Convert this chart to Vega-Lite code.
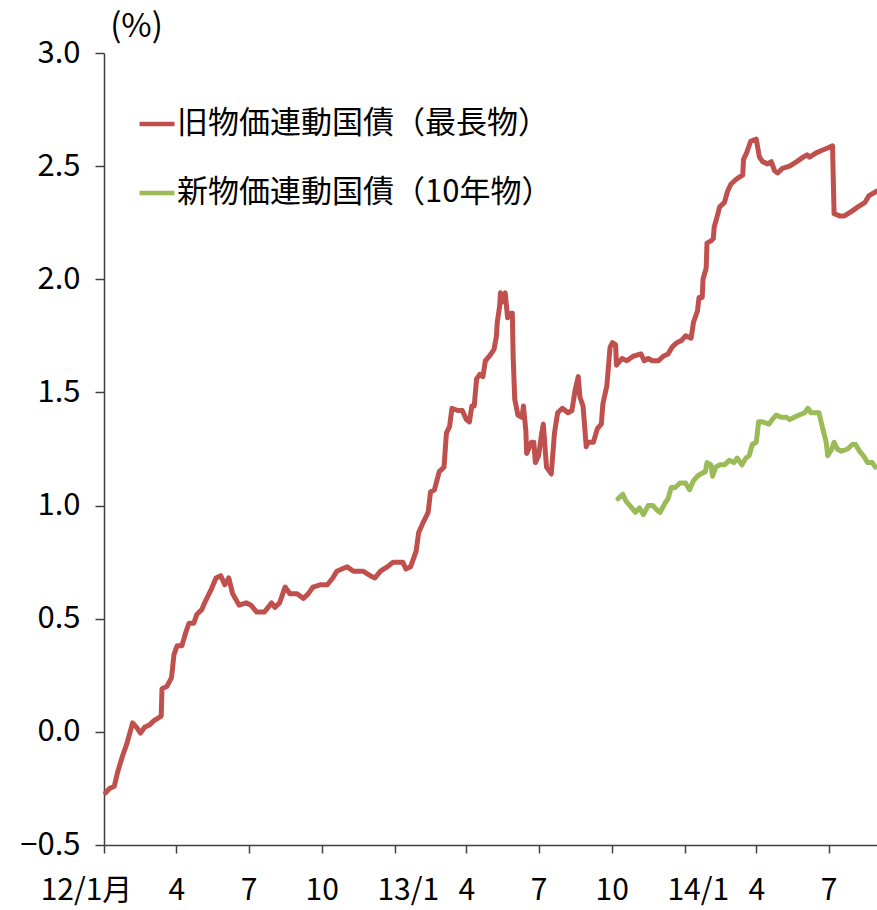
{
  "$schema": "https://vega.github.io/schema/vega-lite/v6.json",
  "width": 773,
  "height": 792,
  "autosize": {"type": "none"},
  "padding": {"left": 104, "top": 53, "right": 0, "bottom": 65},
  "background": "white",
  "config": {
    "view": {"stroke": null},
    "font": "Noto Sans CJK JP"
  },
  "datasets": {
    "old": [
      {"date": "2012-01-03", "value": -0.27},
      {"date": "2012-01-08", "value": -0.25},
      {"date": "2012-01-14", "value": -0.24},
      {"date": "2012-01-18", "value": -0.18},
      {"date": "2012-01-24", "value": -0.11},
      {"date": "2012-01-30", "value": -0.05},
      {"date": "2012-02-06", "value": 0.04},
      {"date": "2012-02-11", "value": 0.02},
      {"date": "2012-02-16", "value": -0.005},
      {"date": "2012-02-21", "value": 0.02},
      {"date": "2012-02-27", "value": 0.03},
      {"date": "2012-03-04", "value": 0.05},
      {"date": "2012-03-13", "value": 0.07},
      {"date": "2012-03-14", "value": 0.19},
      {"date": "2012-03-20", "value": 0.20},
      {"date": "2012-03-26", "value": 0.24},
      {"date": "2012-03-29", "value": 0.34},
      {"date": "2012-04-02", "value": 0.38},
      {"date": "2012-04-08", "value": 0.38},
      {"date": "2012-04-13", "value": 0.44},
      {"date": "2012-04-17", "value": 0.48},
      {"date": "2012-04-23", "value": 0.48},
      {"date": "2012-04-27", "value": 0.52},
      {"date": "2012-05-03", "value": 0.54},
      {"date": "2012-05-08", "value": 0.58},
      {"date": "2012-05-15", "value": 0.63},
      {"date": "2012-05-21", "value": 0.68},
      {"date": "2012-05-27", "value": 0.69},
      {"date": "2012-06-01", "value": 0.65},
      {"date": "2012-06-06", "value": 0.68},
      {"date": "2012-06-11", "value": 0.61},
      {"date": "2012-06-19", "value": 0.56},
      {"date": "2012-06-28", "value": 0.57},
      {"date": "2012-07-04", "value": 0.56},
      {"date": "2012-07-11", "value": 0.53},
      {"date": "2012-07-21", "value": 0.53},
      {"date": "2012-07-30", "value": 0.57},
      {"date": "2012-08-03", "value": 0.55},
      {"date": "2012-08-09", "value": 0.57},
      {"date": "2012-08-16", "value": 0.64},
      {"date": "2012-08-22", "value": 0.61},
      {"date": "2012-08-31", "value": 0.61},
      {"date": "2012-09-08", "value": 0.59},
      {"date": "2012-09-14", "value": 0.61},
      {"date": "2012-09-20", "value": 0.64},
      {"date": "2012-09-29", "value": 0.65},
      {"date": "2012-10-08", "value": 0.65},
      {"date": "2012-10-15", "value": 0.68},
      {"date": "2012-10-20", "value": 0.71},
      {"date": "2012-11-02", "value": 0.73},
      {"date": "2012-11-10", "value": 0.71},
      {"date": "2012-11-22", "value": 0.71},
      {"date": "2012-12-01", "value": 0.69},
      {"date": "2012-12-07", "value": 0.68},
      {"date": "2012-12-14", "value": 0.71},
      {"date": "2012-12-23", "value": 0.73},
      {"date": "2012-12-30", "value": 0.75},
      {"date": "2013-01-11", "value": 0.75},
      {"date": "2013-01-15", "value": 0.72},
      {"date": "2013-01-21", "value": 0.73},
      {"date": "2013-01-28", "value": 0.80},
      {"date": "2013-01-31", "value": 0.88},
      {"date": "2013-02-05", "value": 0.92},
      {"date": "2013-02-12", "value": 0.97},
      {"date": "2013-02-15", "value": 1.06},
      {"date": "2013-02-20", "value": 1.07},
      {"date": "2013-02-23", "value": 1.11},
      {"date": "2013-02-26", "value": 1.15},
      {"date": "2013-03-04", "value": 1.17},
      {"date": "2013-03-07", "value": 1.32},
      {"date": "2013-03-11", "value": 1.35},
      {"date": "2013-03-14", "value": 1.43},
      {"date": "2013-03-21", "value": 1.42},
      {"date": "2013-03-27", "value": 1.42},
      {"date": "2013-04-01", "value": 1.38},
      {"date": "2013-04-05", "value": 1.37},
      {"date": "2013-04-08", "value": 1.44},
      {"date": "2013-04-11", "value": 1.44},
      {"date": "2013-04-14", "value": 1.56},
      {"date": "2013-04-18", "value": 1.58},
      {"date": "2013-04-22", "value": 1.57},
      {"date": "2013-04-25", "value": 1.64},
      {"date": "2013-04-30", "value": 1.66},
      {"date": "2013-05-06", "value": 1.69},
      {"date": "2013-05-09", "value": 1.75},
      {"date": "2013-05-10", "value": 1.81},
      {"date": "2013-05-13", "value": 1.88},
      {"date": "2013-05-14", "value": 1.94},
      {"date": "2013-05-17", "value": 1.90},
      {"date": "2013-05-20", "value": 1.94},
      {"date": "2013-05-23", "value": 1.83},
      {"date": "2013-05-27", "value": 1.85},
      {"date": "2013-05-29", "value": 1.85},
      {"date": "2013-05-30", "value": 1.66},
      {"date": "2013-06-01", "value": 1.47},
      {"date": "2013-06-05", "value": 1.40},
      {"date": "2013-06-10", "value": 1.39},
      {"date": "2013-06-12", "value": 1.44},
      {"date": "2013-06-15", "value": 1.33},
      {"date": "2013-06-16", "value": 1.23},
      {"date": "2013-06-22", "value": 1.28},
      {"date": "2013-06-25", "value": 1.28},
      {"date": "2013-06-27", "value": 1.19},
      {"date": "2013-07-01", "value": 1.22},
      {"date": "2013-07-05", "value": 1.32},
      {"date": "2013-07-07", "value": 1.36},
      {"date": "2013-07-11", "value": 1.17},
      {"date": "2013-07-13", "value": 1.16},
      {"date": "2013-07-17", "value": 1.14},
      {"date": "2013-07-21", "value": 1.32},
      {"date": "2013-07-25", "value": 1.41},
      {"date": "2013-07-31", "value": 1.43},
      {"date": "2013-08-07", "value": 1.41},
      {"date": "2013-08-12", "value": 1.42},
      {"date": "2013-08-16", "value": 1.51},
      {"date": "2013-08-20", "value": 1.57},
      {"date": "2013-08-22", "value": 1.48},
      {"date": "2013-08-26", "value": 1.44},
      {"date": "2013-08-30", "value": 1.26},
      {"date": "2013-09-01", "value": 1.28},
      {"date": "2013-09-08", "value": 1.28},
      {"date": "2013-09-13", "value": 1.34},
      {"date": "2013-09-18", "value": 1.36},
      {"date": "2013-09-20", "value": 1.45},
      {"date": "2013-09-25", "value": 1.53},
      {"date": "2013-09-29", "value": 1.70},
      {"date": "2013-10-02", "value": 1.72},
      {"date": "2013-10-06", "value": 1.71},
      {"date": "2013-10-07", "value": 1.62},
      {"date": "2013-10-14", "value": 1.65},
      {"date": "2013-10-20", "value": 1.64},
      {"date": "2013-10-28", "value": 1.66},
      {"date": "2013-11-07", "value": 1.67},
      {"date": "2013-11-11", "value": 1.64},
      {"date": "2013-11-16", "value": 1.65},
      {"date": "2013-11-21", "value": 1.64},
      {"date": "2013-11-25", "value": 1.64},
      {"date": "2013-11-29", "value": 1.64},
      {"date": "2013-12-05", "value": 1.66},
      {"date": "2013-12-11", "value": 1.67},
      {"date": "2013-12-16", "value": 1.70},
      {"date": "2013-12-22", "value": 1.72},
      {"date": "2013-12-28", "value": 1.73},
      {"date": "2014-01-02", "value": 1.75},
      {"date": "2014-01-09", "value": 1.74},
      {"date": "2014-01-12", "value": 1.81},
      {"date": "2014-01-17", "value": 1.86},
      {"date": "2014-01-19", "value": 1.92},
      {"date": "2014-01-23", "value": 1.92},
      {"date": "2014-01-24", "value": 2.00},
      {"date": "2014-01-28", "value": 2.05},
      {"date": "2014-01-29", "value": 2.16},
      {"date": "2014-02-03", "value": 2.17},
      {"date": "2014-02-06", "value": 2.18},
      {"date": "2014-02-07", "value": 2.23},
      {"date": "2014-02-11", "value": 2.28},
      {"date": "2014-02-14", "value": 2.32},
      {"date": "2014-02-20", "value": 2.34},
      {"date": "2014-02-24", "value": 2.39},
      {"date": "2014-02-28", "value": 2.42},
      {"date": "2014-03-06", "value": 2.44},
      {"date": "2014-03-10", "value": 2.45},
      {"date": "2014-03-15", "value": 2.46},
      {"date": "2014-03-16", "value": 2.53},
      {"date": "2014-03-20", "value": 2.56},
      {"date": "2014-03-25", "value": 2.61},
      {"date": "2014-04-01", "value": 2.62},
      {"date": "2014-04-05", "value": 2.54},
      {"date": "2014-04-09", "value": 2.52},
      {"date": "2014-04-15", "value": 2.51},
      {"date": "2014-04-20", "value": 2.52},
      {"date": "2014-04-24", "value": 2.48},
      {"date": "2014-04-28", "value": 2.47},
      {"date": "2014-05-04", "value": 2.49},
      {"date": "2014-05-13", "value": 2.50},
      {"date": "2014-05-22", "value": 2.52},
      {"date": "2014-05-30", "value": 2.54},
      {"date": "2014-06-04", "value": 2.55},
      {"date": "2014-06-07", "value": 2.54},
      {"date": "2014-06-16", "value": 2.56},
      {"date": "2014-06-23", "value": 2.57},
      {"date": "2014-06-30", "value": 2.58},
      {"date": "2014-07-06", "value": 2.59},
      {"date": "2014-07-08", "value": 2.29},
      {"date": "2014-07-15", "value": 2.28},
      {"date": "2014-07-21", "value": 2.28},
      {"date": "2014-07-30", "value": 2.30},
      {"date": "2014-08-07", "value": 2.32},
      {"date": "2014-08-16", "value": 2.34},
      {"date": "2014-08-21", "value": 2.37},
      {"date": "2014-08-31", "value": 2.39}
    ],
    "new": [
      {"date": "2013-10-09", "value": 1.03},
      {"date": "2013-10-15", "value": 1.05},
      {"date": "2013-10-19", "value": 1.02},
      {"date": "2013-10-24", "value": 1.00},
      {"date": "2013-10-31", "value": 0.97},
      {"date": "2013-11-05", "value": 0.99},
      {"date": "2013-11-10", "value": 0.96},
      {"date": "2013-11-16", "value": 1.00},
      {"date": "2013-11-22", "value": 1.00},
      {"date": "2013-11-27", "value": 0.98},
      {"date": "2013-12-01", "value": 0.97},
      {"date": "2013-12-07", "value": 1.01},
      {"date": "2013-12-11", "value": 1.03},
      {"date": "2013-12-15", "value": 1.08},
      {"date": "2013-12-20", "value": 1.08},
      {"date": "2013-12-26", "value": 1.10},
      {"date": "2014-01-02", "value": 1.10},
      {"date": "2014-01-07", "value": 1.07},
      {"date": "2014-01-12", "value": 1.11},
      {"date": "2014-01-17", "value": 1.13},
      {"date": "2014-01-21", "value": 1.14},
      {"date": "2014-01-27", "value": 1.15},
      {"date": "2014-01-29", "value": 1.19},
      {"date": "2014-02-03", "value": 1.18},
      {"date": "2014-02-05", "value": 1.13},
      {"date": "2014-02-09", "value": 1.17},
      {"date": "2014-02-14", "value": 1.18},
      {"date": "2014-02-20", "value": 1.18},
      {"date": "2014-02-26", "value": 1.20},
      {"date": "2014-03-04", "value": 1.19},
      {"date": "2014-03-08", "value": 1.21},
      {"date": "2014-03-14", "value": 1.18},
      {"date": "2014-03-19", "value": 1.21},
      {"date": "2014-03-23", "value": 1.22},
      {"date": "2014-03-27", "value": 1.27},
      {"date": "2014-04-01", "value": 1.28},
      {"date": "2014-04-04", "value": 1.37},
      {"date": "2014-04-09", "value": 1.37},
      {"date": "2014-04-17", "value": 1.36},
      {"date": "2014-04-21", "value": 1.38},
      {"date": "2014-04-26", "value": 1.40},
      {"date": "2014-05-02", "value": 1.39},
      {"date": "2014-05-09", "value": 1.39},
      {"date": "2014-05-13", "value": 1.38},
      {"date": "2014-05-19", "value": 1.39},
      {"date": "2014-05-25", "value": 1.40},
      {"date": "2014-06-01", "value": 1.41},
      {"date": "2014-06-05", "value": 1.43},
      {"date": "2014-06-09", "value": 1.41},
      {"date": "2014-06-14", "value": 1.41},
      {"date": "2014-06-19", "value": 1.41},
      {"date": "2014-06-23", "value": 1.35},
      {"date": "2014-06-28", "value": 1.28},
      {"date": "2014-06-30", "value": 1.22},
      {"date": "2014-07-05", "value": 1.25},
      {"date": "2014-07-08", "value": 1.28},
      {"date": "2014-07-12", "value": 1.25},
      {"date": "2014-07-17", "value": 1.24},
      {"date": "2014-07-25", "value": 1.25},
      {"date": "2014-07-31", "value": 1.27},
      {"date": "2014-08-04", "value": 1.27},
      {"date": "2014-08-09", "value": 1.24},
      {"date": "2014-08-14", "value": 1.22},
      {"date": "2014-08-19", "value": 1.19},
      {"date": "2014-08-25", "value": 1.19},
      {"date": "2014-08-29", "value": 1.17}
    ]
  },
  "encoding": {
    "x": {
      "field": "date",
      "type": "temporal",
      "scale": {
        "type": "utc",
        "domain": [
          {"year": 2012, "month": 1, "date": 1, "utc": true},
          {"year": 2014, "month": 8, "date": 31, "utc": true}
        ]
      },
      "axis": {
        "title": null,
        "values": [
          {"year": 2012, "month": 1, "date": 1, "utc": true},
          {"year": 2012, "month": 4, "date": 1, "utc": true},
          {"year": 2012, "month": 7, "date": 1, "utc": true},
          {"year": 2012, "month": 10, "date": 1, "utc": true},
          {"year": 2013, "month": 1, "date": 1, "utc": true},
          {"year": 2013, "month": 4, "date": 1, "utc": true},
          {"year": 2013, "month": 7, "date": 1, "utc": true},
          {"year": 2013, "month": 10, "date": 1, "utc": true},
          {"year": 2014, "month": 1, "date": 1, "utc": true},
          {"year": 2014, "month": 4, "date": 1, "utc": true},
          {"year": 2014, "month": 7, "date": 1, "utc": true}
        ],
        "labelExpr": "utcmonth(datum.value) == 0 ? (utcyear(datum.value) == 2012 ? '12/1月' : (utcyear(datum.value) % 100) + '/1') : (utcmonth(datum.value) + 1) + ''",
        "labelFont": "Noto Sans CJK JP",
        "labelFontSize": 30,
        "labelColor": "#000000",
        "labelPadding": 22,
        "labelOverlap": false,
        "labelFlush": false,
        "labelOffset": {
          "condition": [
            {"test": "utcmonth(datum.value) == 0 && utcyear(datum.value) == 2012", "value": -18},
            {"test": "utcmonth(datum.value) == 0 && utcyear(datum.value) > 2012", "value": 13}
          ],
          "value": 0
        },
        "grid": false,
        "tickSize": 8,
        "tickColor": "#404040",
        "tickWidth": 1.5,
        "domainColor": "#404040",
        "domainWidth": 1.5
      }
    }
  },
  "layer": [
    {
      "data": {"values": [{"level": 0}, {"level": 3}]},
      "mark": {"type": "rule", "color": "#404040", "strokeWidth": 1.5},
      "encoding": {
        "y": {"field": "level", "type": "quantitative"}
      }
    },
    {
      "data": {"name": "old"},
      "mark": {"type": "line", "strokeWidth": 5, "strokeJoin": "round", "strokeCap": "round"},
      "encoding": {
        "y": {
          "field": "value",
          "type": "quantitative",
          "scale": {"domain": [-0.5, 3.0], "nice": false, "zero": false},
          "axis": {
            "title": "(%)",
            "titleAngle": 0,
            "titleX": 32,
            "titleY": -27,
            "titleAlign": "center",
            "titleBaseline": "middle",
            "titleFont": "Noto Sans CJK JP",
            "titleFontSize": 33,
            "titleFontWeight": "normal",
            "titleColor": "#000000",
            "values": [-0.5, 0, 0.5, 1, 1.5, 2, 2.5, 3],
            "format": ".1f",
            "labelFont": "Noto Sans CJK JP",
            "labelFontSize": 31,
            "labelColor": "#000000",
            "labelPadding": 15,
            "grid": false,
            "tickSize": 9,
            "tickColor": "#404040",
            "tickWidth": 1.5,
            "domainColor": "#404040",
            "domainWidth": 1.5
          }
        },
        "color": {
          "datum": "旧物価連動国債（最長物）",
          "type": "nominal",
          "scale": {
            "domain": ["旧物価連動国債（最長物）", "新物価連動国債（10年物）"],
            "range": ["#C0504D", "#9BBB59"]
          },
          "legend": {
            "title": null,
            "orient": "none",
            "legendX": 33,
            "legendY": 51,
            "padding": 0,
            "symbolType": "stroke",
            "symbolSize": 1225,
            "symbolStrokeWidth": 4.5,
            "labelFont": "Noto Sans CJK JP",
            "labelFontSize": 31,
            "labelColor": "#000000",
            "labelOffset": 0,
            "labelLimit": 600,
            "rowPadding": 34
          }
        }
      }
    },
    {
      "data": {"name": "new"},
      "mark": {"type": "line", "strokeWidth": 5, "strokeJoin": "round", "strokeCap": "round"},
      "encoding": {
        "y": {"field": "value", "type": "quantitative"},
        "color": {"datum": "新物価連動国債（10年物）", "type": "nominal"}
      }
    }
  ]
}
